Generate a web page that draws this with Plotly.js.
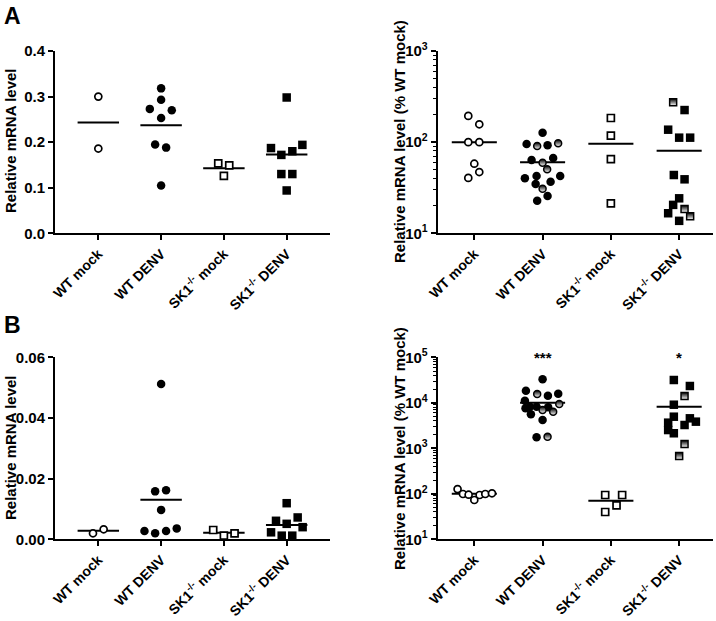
<!DOCTYPE html>
<html><head><meta charset="utf-8">
<script src="https://cdn.plot.ly/plotly-3.0.1.min.js"></script>
<style>html,body{margin:0;padding:0;background:#fff}#c{width:716px;height:621px}</style>
</head><body><div id="c"></div>
<script>
// ---------- data ----------
const categories = ['WT mock','WT DENV','SK1<sup>-/-</sup> mock','SK1<sup>-/-</sup> DENV'];
const yTitleLeft = 'Relative mRNA level';
const yTitleRight = 'Relative mRNA level (% WT mock)';
const panelLabels = ['A', 'B'];

// Panel A left (relative mRNA level)
const aL_wtMock = [0.300, 0.186];
const aL_wtMockOff = [0, 0];
const aL_wtDenv = [0.318, 0.293, 0.273, 0.270, 0.253, 0.195, 0.188, 0.105];
const aL_wtDenvOff = [0, 0, -0.18, 0.17, 0, -0.095, 0.08, 0];
const aL_skMock = [0.1535, 0.149, 0.126];
const aL_skMockOff = [-0.09, 0.085, 0];
const aL_skDenv = [0.298, 0.187, 0.194, 0.172, 0.180, 0.130, 0.130, 0.094];
const aL_skDenvOff = [0, -0.25, 0.25, -0.085, 0.09, -0.085, 0.09, 0];
const aL_means = [0.243, 0.237, 0.143, 0.173];

// Panel A right (% WT mock)
const aR_wtMock = [194, 157, 100, 100, 58, 47, 40.5];
const aR_wtMockOff = [-0.088, 0.073, -0.088, 0.073, 0, 0.073, -0.088];
const aR_wtDenvFull = [127, 95.5, 92.4, 63.7, 67, 40.1, 42.6, 42.6, 34.8, 36.8, 25.7, 22.8];
const aR_wtDenvFullOff = [0, -0.234, 0.073, -0.161, 0.155, -0.259, -0.088, 0.258, -0.102, 0.117, 0.073, -0.079];
const aR_wtDenvHalf = [90.8, 97.2, 59.5, 50.4, 30.9];
const aR_wtDenvHalfOff = [-0.079, 0.228, 0, 0.067, 0];
const aR_skMock = [184, 118, 65, 21.3];
const aR_skMockOff = [0, 0, 0, 0];
const aR_skDenvFull = [225, 137, 112, 112, 43.6, 39.1, 24.2, 20.5, 16.6, 13.7];
const aR_skDenvFullOff = [0.079, -0.161, 0, 0.161, -0.078, 0.079, 0, -0.088, -0.161, 0];
const aR_skDenvHalf = [274, 18.5, 15.4];
const aR_skDenvHalfOff = [-0.088, 0.079, 0.161];
const aR_means = [100, 60, 96, 80.7];

// Panel B left
const bL_wtMock = [0.00198, 0.0033];
const bL_wtMockOff = [-0.085, 0.085];
const bL_wtDenv = [0.0512, 0.0158, 0.0162, 0.0097, 0.0027, 0.0020, 0.0027, 0.0036];
const bL_wtDenvOff = [0, -0.095, 0.079, 0, -0.265, -0.095, 0.079, 0.249];
const bL_skMock = [0.00307, 0.00119, 0.00198];
const bL_skMockOff = [-0.17, 0, 0.17];
const bL_skDenv = [0.0119, 0.0061, 0.0072, 0.0051, 0.0040, 0.0023, 0.0012, 0.0012];
const bL_skDenvOff = [0, -0.17, 0.175, 0, 0.254, -0.249, -0.079, 0.089];
const bL_means = [0.00284, 0.0130, 0.00218, 0.0047];

// Panel B right
const bR_wtMock = [127, 99, 95.5, 73, 94, 99, 102.6];
const bR_wtMockOff = [-0.245, -0.166, -0.083, 0, 0.078, 0.161, 0.259];
const bR_wtDenvFull = [32800, 18400, 14300, 15800, 11100, 8200, 8200, 7960, 5580, 4190, 1750, 7570];
const bR_wtDenvFullOff = [0, -0.244, 0.078, 0.229, -0.259, -0.186, -0.088, 0.082, -0.171, 0, -0.088, -0.25];
const bR_wtDenvHalf = [15600, 6950, 6370, 9400, 1800];
const bR_wtDenvHalfOff = [-0.079, 0, 0.155, 0.244, 0.073];
const bR_skMock = [94, 94, 55.9, 39.8];
const bR_skMockOff = [-0.083, 0.165, 0.083, -0.083];
const bR_skDenvFull = [31700, 23400, 9080, 4950, 3660, 4560, 3850, 3250, 2520, 2140];
const bR_skDenvFullOff = [-0.078, 0.157, -0.078, -0.078, -0.161, 0.157, 0.245, 0.079, -0.161, -0.078];
const bR_skDenvHalf = [14100, 1245, 678];
const bR_skDenvHalfOff = [0.079, 0.079, 0];
const bR_means = [100, 10050, 70.5, 8200];

const significance = ['', '***', '', '*'];

// ---------- styles ----------
const FONT = 'Liberation Sans, Arial, Helvetica, sans-serif';
const STY = {
  openC: {symbol:'circle', size:7, color:'white', line:{color:'black', width:1.7}},
  fullC: {symbol:'circle', size:8.5, color:'black', line:{color:'black', width:0}},
  halfC: {symbol:'circle', size:7, color:'black', gradient:{type:'vertical', color:'white'}, line:{color:'black', width:1.5}},
  openS: {symbol:'square', size:7, color:'white', line:{color:'black', width:1.7}},
  fullS: {symbol:'square', size:8.5, color:'black', line:{color:'black', width:0}},
  halfS: {symbol:'square', size:7, color:'black', gradient:{type:'vertical', color:'white'}, line:{color:'black', width:1.5}}
};

const traces = [];
function pts(cat, vals, offs, sty, xa, ya) {
  traces.push({type:'scatter', mode:'markers', x: vals.map((v,i)=>cat+offs[i]), y: vals,
    xaxis:xa, yaxis:ya, marker: STY[sty], hoverinfo:'y', showlegend:false, cliponaxis:false});
}
function means(ms, xa, ya) {
  ms.forEach((m,i)=>traces.push({type:'scatter', mode:'lines', x:[i-0.33, i+0.33], y:[m,m],
    xaxis:xa, yaxis:ya, line:{color:'black', width:2}, hoverinfo:'skip', showlegend:false}));
}

// A left
means(aL_means,'x','y');
pts(0, aL_wtMock, aL_wtMockOff, 'openC','x','y');
pts(1, aL_wtDenv, aL_wtDenvOff, 'fullC','x','y');
pts(2, aL_skMock, aL_skMockOff, 'openS','x','y');
pts(3, aL_skDenv, aL_skDenvOff, 'fullS','x','y');
// A right
means(aR_means,'x2','y2');
pts(0, aR_wtMock, aR_wtMockOff, 'openC','x2','y2');
pts(1, aR_wtDenvFull, aR_wtDenvFullOff, 'fullC','x2','y2');
pts(1, aR_wtDenvHalf, aR_wtDenvHalfOff, 'halfC','x2','y2');
pts(2, aR_skMock, aR_skMockOff, 'openS','x2','y2');
pts(3, aR_skDenvFull, aR_skDenvFullOff, 'fullS','x2','y2');
pts(3, aR_skDenvHalf, aR_skDenvHalfOff, 'halfS','x2','y2');
// B left
means(bL_means,'x3','y3');
pts(0, bL_wtMock, bL_wtMockOff, 'openC','x3','y3');
pts(1, bL_wtDenv, bL_wtDenvOff, 'fullC','x3','y3');
pts(2, bL_skMock, bL_skMockOff, 'openS','x3','y3');
pts(3, bL_skDenv, bL_skDenvOff, 'fullS','x3','y3');
// B right
means(bR_means,'x4','y4');
pts(0, bR_wtMock, bR_wtMockOff, 'openC','x4','y4');
pts(1, bR_wtDenvFull, bR_wtDenvFullOff, 'fullC','x4','y4');
pts(1, bR_wtDenvHalf, bR_wtDenvHalfOff, 'halfC','x4','y4');
pts(2, bR_skMock, bR_skMockOff, 'openS','x4','y4');
pts(3, bR_skDenvFull, bR_skDenvFullOff, 'fullS','x4','y4');
pts(3, bR_skDenvHalf, bR_skDenvHalfOff, 'halfS','x4','y4');

// ---------- axes ----------
const tf = {family:FONT, size:15, color:'black', weight:'bold'};
const xtf = {family:FONT, size:14, color:'black', weight:'bold'};
function xAxis(domain, range, anchor) {
  return {domain, range, anchor, tickmode:'array', tickvals:[0,1,2,3], ticktext:categories,
    tickangle:-45, ticks:'outside', ticklen:5, tickwidth:2, tickcolor:'black',
    showline:true, linecolor:'black', linewidth:2, showgrid:false, zeroline:false, tickfont:xtf};
}
function linY(domain, range, dtick, fmt, anchor) {
  return {domain, range, anchor, tickmode:'linear', tick0:0, dtick, tickformat:fmt,
    ticks:'outside', ticklen:5, tickwidth:2, tickcolor:'black',
    showline:true, linecolor:'black', linewidth:2, showgrid:false, zeroline:false, tickfont:tf};
}
function minorVals(lo, hi) { const v=[]; for(let d=lo; d<hi; d++) for(let k=2;k<=9;k++) v.push(k*Math.pow(10,d)); return v; }
function logY(domain, lo, hi, anchor) {
  const tv=[], tt=[];
  for(let p=lo;p<=hi;p++){ tv.push(Math.pow(10,p)); tt.push('10<sup>'+p+'</sup>'); }
  return {domain, type:'log', range:[lo,hi], anchor, tickmode:'array', tickvals:tv, ticktext:tt,
    ticks:'outside', ticklen:5, tickwidth:2, tickcolor:'black',
    minor:{tickmode:'array', tickvals:minorVals(lo,hi), ticks:'outside', ticklen:3, tickwidth:1, tickcolor:'black', showgrid:false},
    showline:true, linecolor:'black', linewidth:2, showgrid:false, zeroline:false, tickfont:tf};
}

const xL = [55/716, 330/716], xR = [437.7/716, 713.3/716];
const yA = [1-233.3/621, 1-51/621], yB = [1-539.3/621, 1-357.3/621];
const titleFont = {family:FONT, size:15, color:'black', weight:'bold'};
function yTitle(text, xpx, ycpx) {
  return {text, xref:'paper', yref:'paper', x:xpx/716, y:1-ycpx/621, xanchor:'center', yanchor:'middle',
    textangle:-90, showarrow:false, font:titleFont};
}

const layout = {
  width:716, height:621, margin:{l:0,r:0,t:0,b:0}, paper_bgcolor:'white', plot_bgcolor:'white',
  showlegend:false, font:{family:FONT, color:'black'},
  xaxis: xAxis(xL, [-0.69, 3.69], 'y'),
  yaxis: linY(yA, [0, 0.4], 0.1, '.1f', 'x'),
  xaxis2: xAxis(xR, [-0.536, 3.5], 'y2'),
  yaxis2: logY(yA, 1, 3, 'x2'),
  xaxis3: xAxis(xL, [-0.69, 3.69], 'y3'),
  yaxis3: linY(yB, [0, 0.06], 0.02, '.2f', 'x3'),
  xaxis4: xAxis(xR, [-0.536, 3.5], 'y4'),
  yaxis4: logY(yB, 1, 5, 'x4'),
  annotations: [
    {text:panelLabels[0], xref:'paper', yref:'paper', x:2/716, y:1-1/621, xanchor:'left', yanchor:'top', showarrow:false,
     font:{family:FONT, size:23, color:'black', weight:'bold'}},
    {text:panelLabels[1], xref:'paper', yref:'paper', x:2/716, y:1-310/621, xanchor:'left', yanchor:'top', showarrow:false,
     font:{family:FONT, size:23, color:'black', weight:'bold'}},
    yTitle(yTitleLeft, 10, 141),
    yTitle(yTitleRight, 399, 141),
    yTitle(yTitleLeft, 10, 448),
    yTitle(yTitleRight, 399, 448)
  ].concat(significance.map((s,i)=>({text:s, xref:'x4', yref:'y4', x:i, y:5, yanchor:'middle', showarrow:false,
     font:{family:FONT, size:15, color:'black', weight:'bold'}})).filter(a=>a.text))
};

Plotly.newPlot('c', traces, layout, {displayModeBar:false, staticPlot:true});
</script></body></html>
